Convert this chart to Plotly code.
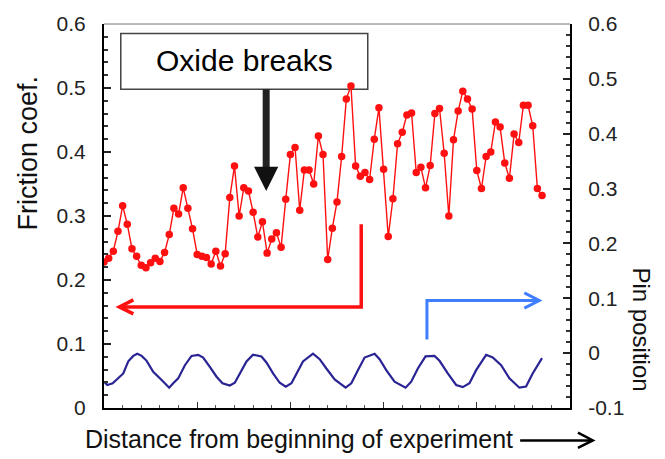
import plotly.graph_objects as go

# Friction coefficient sampled along the sliding distance (left axis)
friction = [
    0.228, 0.234, 0.245, 0.276, 0.316, 0.287, 0.249, 0.237, 0.223, 0.219,
    0.227, 0.234, 0.229, 0.243, 0.271, 0.312, 0.303, 0.344, 0.312, 0.280,
    0.240, 0.237, 0.235, 0.225, 0.245, 0.222, 0.241, 0.329, 0.378, 0.300,
    0.344, 0.339, 0.306, 0.267, 0.291, 0.242, 0.264, 0.274, 0.251, 0.326,
    0.396, 0.407, 0.309, 0.372, 0.372, 0.350, 0.425, 0.396, 0.232, 0.281,
    0.322, 0.393, 0.483, 0.503, 0.378, 0.362, 0.368, 0.357, 0.420, 0.469,
    0.373, 0.268, 0.327, 0.413, 0.431, 0.458, 0.461, 0.368, 0.376, 0.344,
    0.379, 0.460, 0.468, 0.398, 0.300, 0.419, 0.464, 0.495, 0.483, 0.467,
    0.371, 0.343, 0.393, 0.400, 0.447, 0.439, 0.383, 0.359, 0.428, 0.415,
    0.473, 0.473, 0.441, 0.343, 0.332,
]
distance = list(range(len(friction)))

# Pin position trace (right axis)
pin_x = [
    0.0, 0.71, 1.86, 4.14, 5.21, 6.28, 7.14, 8.08, 9.15, 10.56,
    12.36, 13.99, 14.85, 15.92, 17.36, 18.79, 20.21, 21.28, 22.71, 24.15,
    25.43, 27.0, 28.07, 29.14, 30.58, 31.99, 33.79, 34.86, 36.28, 37.71,
    39.0, 40.22, 41.29, 42.7, 44.85, 46.28, 47.72, 49.5, 51.85, 53.07,
    54.49, 55.92, 58.07, 59.14, 60.57, 62.35, 64.71, 65.93, 67.35, 69.0,
    70.92, 72.0, 73.77, 75.57, 76.99, 78.42, 79.86, 82.0, 83.42, 85.22,
    87.0, 89.14, 90.57, 91.99, 94.0,
]
pin_pos = [
    -0.052, -0.058, -0.055, -0.037, -0.015, -0.005, -0.001, -0.005, -0.014, -0.034,
    -0.049, -0.063, -0.055, -0.046, -0.022, -0.005, -0.003, -0.008, -0.025, -0.043,
    -0.055, -0.059, -0.054, -0.037, -0.015, -0.003, -0.006, -0.017, -0.037, -0.054,
    -0.061, -0.055, -0.037, -0.015, -0.001, -0.011, -0.028, -0.048, -0.063, -0.055,
    -0.031, -0.008, -0.001, -0.011, -0.031, -0.052, -0.063, -0.052, -0.028, -0.006,
    -0.005, -0.014, -0.037, -0.058, -0.062, -0.055, -0.031, -0.003, -0.008, -0.022,
    -0.046, -0.063, -0.061, -0.037, -0.009,
]

left_ticks = [0, 0.1, 0.2, 0.3, 0.4, 0.5, 0.6]
left_labels = ["0", "0.1", "0.2", "0.3", "0.4", "0.5", "0.6"]
right_ticks = [-0.1, 0, 0.1, 0.2, 0.3, 0.4, 0.5, 0.6]
right_labels = ["-0.1", "0", "0.1", "0.2", "0.3", "0.4", "0.5", "0.6"]

FONT = "Liberation Sans, Arial, sans-serif"
RED = "#ff1010"
NAVY = "#2a2394"
BLUE = "#3f7fff"

fig = go.Figure()

fig.add_trace(go.Scatter(
    x=distance, y=friction, mode="lines+markers",
    line=dict(color=RED, width=1.4),
    marker=dict(color=RED, size=7.5, line=dict(width=0)),
    yaxis="y", showlegend=False,
))
fig.add_trace(go.Scatter(
    x=pin_x, y=pin_pos, mode="lines",
    line=dict(color=NAVY, width=2.2),
    yaxis="y2", showlegend=False,
))

tickfont = dict(family=FONT, size=21, color="#222")

fig.update_layout(
    width=665, height=459,
    margin=dict(l=104, r=95, t=15, b=51),
    paper_bgcolor="white", plot_bgcolor="white",
    xaxis=dict(
        range=[0, 100], showgrid=False, zeroline=False,
        showline=True, linecolor="black", linewidth=2,
        ticks="inside", dtick=20, tick0=0, ticklen=6, tickcolor="#333", tickwidth=1,
        minor=dict(dtick=4, ticks="inside", ticklen=3, tickcolor="#555"),
        showticklabels=False,
    ),
    yaxis=dict(
        range=[0, 0.6], showgrid=False, zeroline=False,
        showline=True, linecolor="black", linewidth=2,
        ticks="inside", tickvals=left_ticks, ticktext=left_labels,
        ticklen=7, tickcolor="#222", tickwidth=1.5,
        minor=dict(dtick=0.02, ticks="inside", ticklen=4, tickcolor="#333"),
        tickfont=tickfont, ticklabelstandoff=12,
    ),
    yaxis2=dict(
        range=[-0.1, 0.6], overlaying="y", side="right",
        showgrid=False, zeroline=False,
        showline=True, linecolor="black", linewidth=2,
        ticks="inside", tickvals=right_ticks, ticktext=right_labels,
        ticklen=7, tickcolor="#222", tickwidth=1.5,
        minor=dict(dtick=0.02, ticks="inside", ticklen=4, tickcolor="#333"),
        tickfont=tickfont, ticklabelstandoff=12,
    ),
)

shapes = [
    # thin top border of the frame
    dict(type="line", xref="paper", yref="paper", x0=0, x1=1, y0=1, y1=1,
         line=dict(color="#777", width=1)),
    # "Oxide breaks" callout box
    dict(type="rect", xref="x", yref="y", x0=3.6, x1=56.6, y0=0.498, y1=0.585,
         fillcolor="white", line=dict(color="#444", width=1.5), layer="below"),
    # callout arrow shaft and head
    dict(type="rect", xref="x", yref="y", x0=34.05, x1=35.55, y0=0.374, y1=0.498,
         fillcolor="#222", line=dict(width=0)),
    dict(type="path", xref="x", yref="y",
         path="M 32.2,0.377 L 37.4,0.377 L 34.8,0.339 Z",
         fillcolor="#111", line=dict(width=0)),
    # red bracket pointing to the left axis
    dict(type="path", xref="x", yref="y",
         path="M 55.2,0.287 L 55.2,0.158 L 3.3,0.158",
         line=dict(color=RED, width=3.5)),
    dict(type="path", xref="x", yref="y",
         path="M 6.3,0.169 L 3.3,0.158 L 6.3,0.147",
         line=dict(color=RED, width=3.5)),
    # blue bracket pointing to the right axis
    dict(type="path", xref="x", yref="y",
         path="M 69.3,0.107 L 69.3,0.168 L 93.4,0.168",
         line=dict(color=BLUE, width=3)),
    dict(type="path", xref="x", yref="y",
         path="M 90.2,0.180 L 93.4,0.168 L 90.2,0.156",
         line=dict(color=BLUE, width=3)),
    # arrow after the distance label
    dict(type="line", xref="paper", yref="paper", x0=0.893, x1=1.048, y0=-0.0845, y1=-0.0845,
         line=dict(color="black", width=2.5)),
    dict(type="path", xref="paper", yref="paper",
         path="M 1.017,-0.064 L 1.049,-0.0845 L 1.017,-0.104",
         line=dict(color="black", width=2.5)),
]
fig.update_layout(shapes=shapes)

annotations = [
    dict(text="Oxide breaks", xref="x", yref="y", x=30.1, y=0.543,
         xanchor="center", yanchor="middle", showarrow=False,
         font=dict(family=FONT, size=30, color="black")),
    dict(text="Friction coef.", xref="paper", yref="paper", x=-0.163, y=0.663,
         xanchor="center", yanchor="middle", textangle=-90, showarrow=False,
         font=dict(family=FONT, size=27, color="#111")),
    dict(text="Pin position", xref="paper", yref="paper", x=1.154, y=0.205,
         xanchor="center", yanchor="middle", textangle=90, showarrow=False,
         font=dict(family=FONT, size=24, color="#111")),
    dict(text="Distance from beginning of experiment", xref="paper", yref="paper",
         x=0.4185, y=-0.080, xanchor="center", yanchor="middle", showarrow=False,
         font=dict(family=FONT, size=25, color="#111")),
]
fig.update_layout(annotations=annotations)

fig.write_html("out.html")
